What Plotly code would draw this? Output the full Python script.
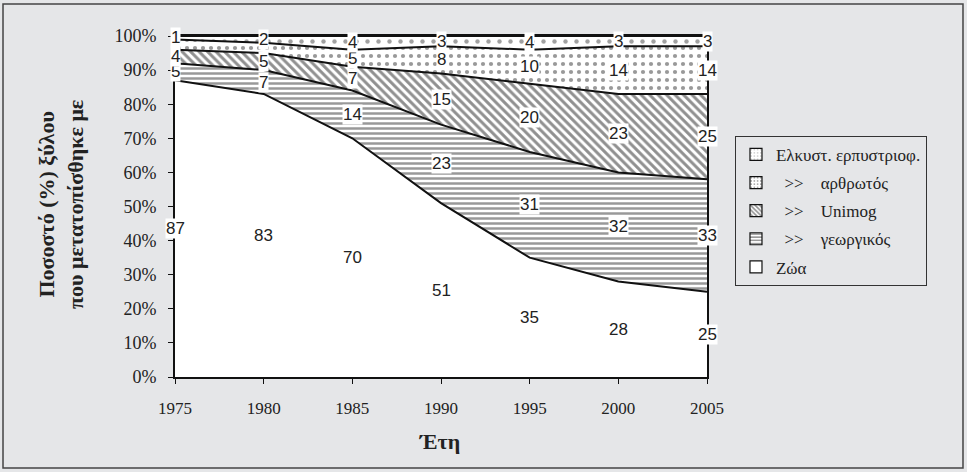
import plotly.graph_objects as go

years = [1975, 1980, 1985, 1990, 1995, 2000, 2005]
zoa = [87, 83, 70, 51, 35, 28, 25]
georgikos = [5, 7, 14, 23, 31, 32, 33]
unimog = [4, 5, 7, 15, 20, 23, 25]
arthrotos = [3, 3, 5, 8, 10, 14, 14]
erpystr = [1, 2, 4, 3, 4, 3, 3]

NB = "\u00a0"
series = [
    ("Ζώα", zoa, dict(shape="", bgcolor="white")),
    (NB * 2 + ">>" + NB * 4 + "γεωργικός", georgikos, dict(shape="-", fgcolor="#333", bgcolor="white", size=5, solidity=0.5)),
    (NB * 2 + ">>" + NB * 4 + "Unimog", unimog, dict(shape="\\", fgcolor="#222", bgcolor="white", size=6, solidity=0.5)),
    (NB * 2 + ">>" + NB * 4 + "αρθρωτός", arthrotos, dict(shape=".", fgcolor="#333", bgcolor="white", size=8, solidity=0.22)),
    ("Ελκυστ. ερπυστριοφ.", erpystr, dict(shape=".", fgcolor="#444", bgcolor="white", size=11, solidity=0.13)),
]

hidden = {(3, 1975), (3, 1980)}  # labels hidden behind neighbours in the original

SERIF = "'Liberation Serif', 'DejaVu Serif', serif"
SANS = "'Liberation Sans', Arial, sans-serif"

fig = go.Figure()
for k, (name, vals, pat) in enumerate(series):
    fig.add_trace(go.Scatter(
        x=years, y=[v / 100 for v in vals], name=name, mode="lines", stackgroup="one",
        line=dict(color="#111", width=2), fillcolor="white",
        fillpattern=pat, showlegend=False,
    ))
# legend swatches (squares) for each series, top series first
for k in range(len(series) - 1, -1, -1):
    name, vals, pat = series[k]
    mp = dict(pat)
    if mp.get("shape"):
        mp["size"] = 4
    fig.add_trace(go.Bar(
        x=[None], y=[None], name=name, legendgroup=f"g{k}",
        marker=dict(color="white", line=dict(color="#111", width=1.2), pattern=mp),
        showlegend=True,
    ))

annotations = []
cum = [0] * len(years)
for si, (name, vals, pat) in enumerate(series):
    for i, (yr, v) in enumerate(zip(years, vals)):
        center = cum[i] + v / 2
        cum[i] += v
        if (si, yr) in hidden:
            continue
        annotations.append(dict(
            x=yr, y=center / 100, xref="x", yref="y", text=str(v), showarrow=False,
            font=dict(family=SANS, size=17, color="#222"),
            bgcolor="white", borderpad=0,
        ))

annotations.append(dict(
    x=-0.214, y=0.505, xref="paper", yref="paper", textangle=-90, showarrow=False,
    text="<b>Ποσοστό (%) ξύλου<br>που μετατοπίσθηκε με</b>",
    font=dict(family=SERIF, size=22, color="#222"),
    xanchor="center", yanchor="middle",
))
annotations.append(dict(
    x=0.498, y=-0.19, xref="paper", yref="paper", showarrow=False,
    text="<b>Έτη</b>",
    font=dict(family=SERIF, size=22, color="#222"),
    xanchor="center", yanchor="middle",
))

fig.update_layout(
    width=967, height=472,
    margin=dict(l=175, r=260, t=36, b=95),
    paper_bgcolor="#e5e6e8", plot_bgcolor="white",
    showlegend=True,
    legend=dict(
        x=1.0526, y=0.707, xanchor="left", yanchor="top",
        traceorder="grouped", tracegroupgap=3,
        bgcolor="#e5e6e8", bordercolor="#333", borderwidth=1,
        font=dict(family=SERIF, size=17, color="#222"),
        itemwidth=30,
    ),
    annotations=annotations,
    shapes=[dict(type="rect", xref="paper", yref="paper",
                 x0=-0.3233, x1=1.4812, y0=-0.2669, y1=1.0938,
                 line=dict(color="#444", width=1.5), layer="below")],
)
fig.update_xaxes(
    range=[1975, 2005], tickvals=years, ticktext=[str(y) for y in years],
    showgrid=False, zeroline=False, showline=True, linecolor="#111", linewidth=2,
    mirror=True, ticks="outside", ticklen=5, tickcolor="#111",
    ticklabelstandoff=10,
    tickfont=dict(family=SERIF, size=17, color="#222"),
)
fig.update_yaxes(
    range=[0, 1], tickvals=[i / 10 for i in range(11)],
    ticktext=[f"{i*10}%" for i in range(11)],
    showgrid=False, zeroline=False, showline=True, linecolor="#111", linewidth=2,
    mirror=True, ticks="outside", ticklen=5, tickcolor="#111",
    ticklabelstandoff=8,
    tickfont=dict(family=SERIF, size=18, color="#222"),
)

fig.write_html("out.html")
